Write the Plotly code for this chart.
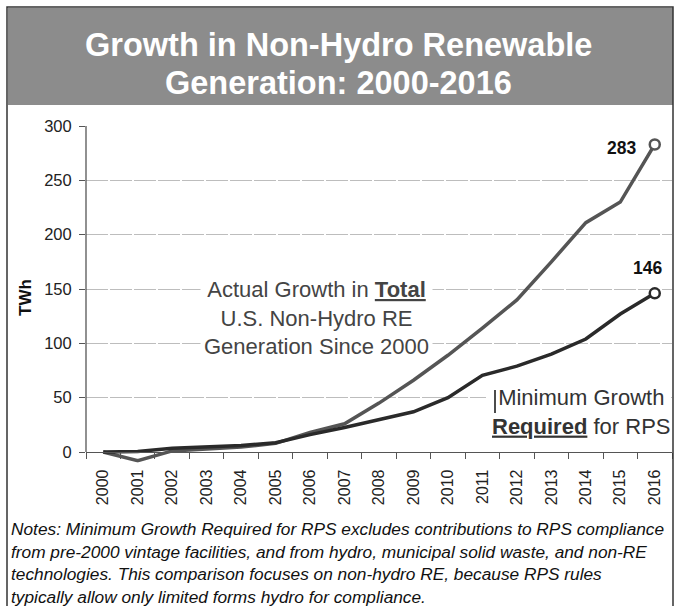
import plotly.graph_objects as go

# data
years = [str(y) for y in range(2000, 2017)]
total_growth = [0, -8, 1, 3, 4.5, 8, 18, 26, 45, 66, 89, 114, 140, 175, 211, 230, 283]
min_required = [0, 0.5, 3.5, 4.5, 6, 8.5, 16, 22.5, 29.5, 37, 50, 70.5, 79, 90, 104, 127, 146]
y_ticks = [0, 50, 100, 150, 200, 250, 300]

title_lines = ["Growth in Non-Hydro Renewable", "Generation: 2000-2016"]
notes_lines = [
    "Notes: Minimum Growth Required for RPS excludes contributions to RPS compliance",
    "from pre-2000 vintage facilities, and from hydro, municipal solid waste, and non-RE",
    "technologies. This comparison focuses on non-hydro RE, because RPS rules",
    "typically allow only limited forms hydro for compliance.",
]

W, H = 674, 606
FONT = "Liberation Sans, Arial, sans-serif"

# plot area in pixels
left, right = 86, 672
top_px, zero_px = 126, 452
ymin, ymax = -10, 300
px_per = (zero_px - top_px) / ymax
bottom_px = zero_px - ymin * px_per

fig = go.Figure()

fig.add_trace(go.Scatter(x=years, y=total_growth, mode="lines",
                         line=dict(color="#555555", width=3.5), showlegend=False))
fig.add_trace(go.Scatter(x=years, y=min_required, mode="lines",
                         line=dict(color="#2a2a2a", width=3.5), showlegend=False))

# open circles at the last points
fig.add_trace(go.Scatter(x=[years[-1]], y=[total_growth[-1]], mode="markers",
                         marker=dict(size=10, color="white", line=dict(color="#555555", width=2.5)),
                         cliponaxis=False, showlegend=False))
fig.add_trace(go.Scatter(x=[years[-1]], y=[min_required[-1]], mode="markers",
                         marker=dict(size=10, color="white", line=dict(color="#2a2a2a", width=2.5)),
                         cliponaxis=False, showlegend=False))

fig.update_layout(
    width=W, height=H,
    margin=dict(l=0, r=0, t=0, b=0, autoexpand=False),
    paper_bgcolor="white", plot_bgcolor="white",
    font=dict(family=FONT, color="#222222"),
    xaxis=dict(domain=[left / W, right / W], type="category", range=[-0.5, 16.5],
               anchor="free", position=(H - zero_px) / H, automargin=False,
               showline=True, linecolor="#555555", linewidth=1.3,
               ticks="outside", ticklen=6, tickcolor="#555555", tickson="boundaries",
               tickangle=-90, tickfont=dict(size=16, color="#222222"),
               ticklabelstandoff=10, showgrid=False),
    yaxis=dict(domain=[(H - bottom_px) / H, (H - top_px) / H], range=[ymin, ymax],
               automargin=False,
               tickvals=y_ticks, ticks="outside", ticklen=6, tickcolor="#555555",
               tickfont=dict(size=16.5, color="#222222"), ticklabelstandoff=4,
               showline=False, zeroline=False,
               showgrid=True, gridcolor="#bdbdbd", gridwidth=1.3, griddash="22px,2px"),
)

# end value labels (category index of the last year)
last = len(years) - 1
fig.add_annotation(x=last, y=total_growth[-1], text=f"<b>{total_growth[-1]:.0f}</b>",
                   xshift=-33, yshift=-4, showarrow=False, xanchor="center", yanchor="middle",
                   font=dict(size=17.5, color="#111111", family=FONT))
fig.add_annotation(x=last, y=min_required[-1], text=f"<b>{min_required[-1]:.0f}</b>",
                   xshift=-7, yshift=25, showarrow=False, xanchor="center", yanchor="middle",
                   font=dict(size=17.5, color="#111111", family=FONT))

# y axis line from 0 to 300 only
fig.add_shape(type="line", xref="paper", yref="y", x0=left / W, x1=left / W, y0=0, y1=ymax,
              line=dict(color="#555555", width=1.3))

# outer border and header band
fig.add_shape(type="rect", xref="paper", yref="paper", x0=7 / W, x1=673 / W, y0=-0.02, y1=(H - 7) / H,
              line=dict(color="#333333", width=1.5), layer="above")
fig.add_shape(type="rect", xref="paper", yref="paper", x0=8 / W, x1=673 / W, y0=(H - 105) / H, y1=(H - 8) / H,
              fillcolor="#8c8c8c", line=dict(width=0), layer="below")

for i, line in enumerate(title_lines):
    fig.add_annotation(text=f"<b>{line}</b>", xref="paper", yref="paper",
                       x=338 / W, y=(H - (45 + i * 38)) / H, showarrow=False,
                       xanchor="center", yanchor="middle",
                       font=dict(size=32.5, color="white", family=FONT))

# y axis title
fig.add_annotation(text="<b>TWh</b>", xref="paper", yref="paper", x=25 / W, y=(H - 297) / H,
                   textangle=-90, showarrow=False, xanchor="center", yanchor="middle",
                   font=dict(size=17, color="#111111", family=FONT))

# callouts
fig.add_annotation(text="Actual Growth in <b><u>Total</u></b><br>U.S. Non-Hydro RE<br>Generation Since 2000",
                   xref="paper", yref="paper", x=316 / W, y=(H - 318) / H, showarrow=False,
                   xanchor="center", yanchor="middle",
                   align="center", bgcolor="white", borderpad=3,
                   font=dict(size=22, color="#444444", family=FONT))

# white patch behind the second callout (hides the gridline), then the stray text cursor
fig.add_shape(type="rect", xref="paper", yref="paper", x0=486 / W, x1=671 / W,
              y0=(H - 440) / H, y1=(H - 384) / H, fillcolor="white", line=dict(width=0), layer="above")
fig.add_shape(type="line", xref="paper", yref="paper", x0=495 / W, x1=495 / W,
              y0=(H - 413) / H, y1=(H - 390) / H, line=dict(color="#111111", width=1.5), layer="above")
fig.add_annotation(text="Minimum Growth<br><b><u>Required</u></b> for RPS",
                   xref="paper", yref="paper", x=581 / W, y=(H - 412) / H, showarrow=False,
                   xanchor="center", yanchor="middle", align="center",
                   font=dict(size=22, color="#333333", family=FONT))

# notes
for i, line in enumerate(notes_lines):
    fig.add_annotation(text=f"<i>{line}</i>", xref="paper", yref="paper",
                       x=9 / W, y=(H - (529 + i * 22.5)) / H, xanchor="left", yanchor="middle",
                       showarrow=False, font=dict(size=17.3, color="#111111", family=FONT))

fig.write_html("out.html", config={"displayModeBar": False},
               post_script="document.body.style.margin='0';document.body.style.overflow='hidden';")
